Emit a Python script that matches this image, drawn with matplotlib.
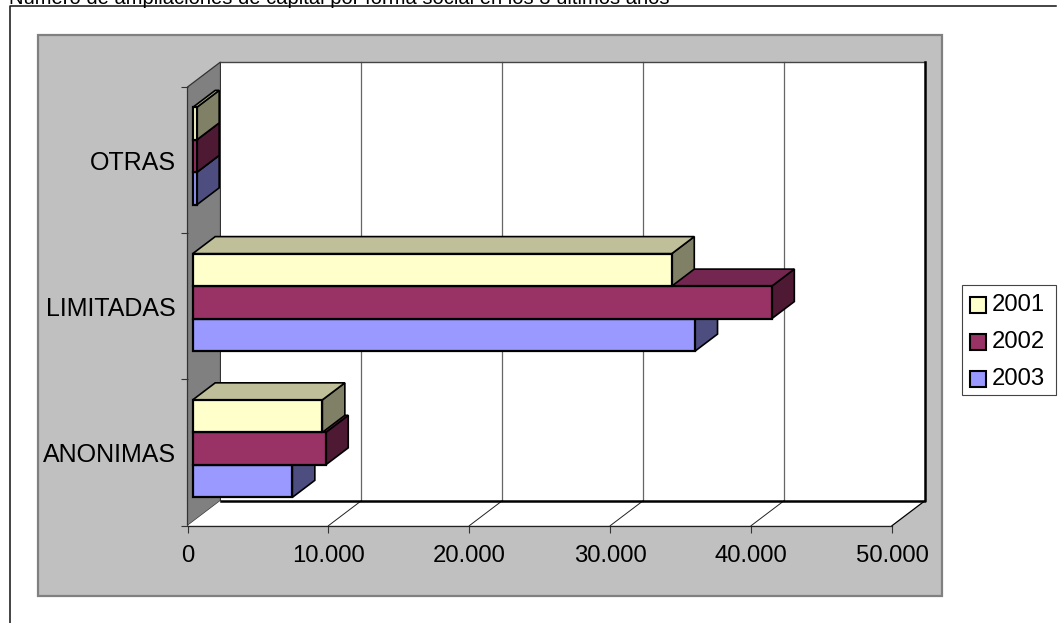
import matplotlib
matplotlib.use('Agg')
import matplotlib.pyplot as plt
from matplotlib.patches import Polygon, Rectangle
from matplotlib.transforms import Affine2D, IdentityTransform

plt.rcParams['font.family'] = ['Liberation Sans', 'DejaVu Sans']

title = 'Número de ampliaciones de capital por forma social en los 3 últimos años'
categories = ['ANONIMAS', 'LIMITADAS', 'OTRAS']
years = ['2001', '2002', '2003']
v2001 = [9200, 34000, 280]
v2002 = [9440, 41100, 280]
v2003 = [7070, 35650, 280]
xticks = [0, 10000, 20000, 30000, 40000, 50000]
xticklabels = ['0', '10.000', '20.000', '30.000', '40.000', '50.000']

front = {'2001': '#FFFFCC', '2002': '#993366', '2003': '#9999FF'}
top = {'2001': '#BFBF99', '2002': '#732650', '2003': '#7373BF'}
side = {'2001': '#808066', '2002': '#4D1933', '2003': '#4D4D80'}

W, H = 1061, 623
DX, DY = 33.0, 25.0   # depth of the 3d box in pixels
BAR_D0, BAR_D1 = 0.157, 0.84
PIXELS = IdentityTransform()

fig = plt.figure(figsize=(W / 100, H / 100), dpi=100, facecolor='white')
px = Affine2D().scale(1, -1).translate(0, H)  # image pixels -> display

# page furniture
fig.add_artist(plt.Line2D([9.5, 9.5, 1056], [623, 6, 6], color='#111111', lw=1.1, transform=px, zorder=-2))
fig.text(9 / W, 1 - 3.5 / H, title, fontsize=14.5, va='baseline', ha='left', color='black')
fig.add_artist(Rectangle((38, 35), 904, 561, fc='#C0C0C0', ec='#808080', lw=1.6, transform=px, zorder=-1))

ax = fig.add_axes([187.5 / W, 1 - 525.7 / H, (892 - 187.5) / W, 438.7 / H], zorder=5)
ax.patch.set_visible(False)
ax.set_xlim(0, 50000)
ax.set_ylim(0, 3)
for s in ax.spines.values():
    s.set_visible(False)


def depth(d):
    return ax.transData + Affine2D().translate(DX * d, DY * d)


def corner(x, y, d):
    # data point on depth d, in display coordinates
    return depth(d).transform((x, y))


def face(pts, **kw):
    ax.add_patch(Polygon(pts, closed=True, transform=PIXELS, clip_on=False, **kw))


# left wall, floor, back wall
face([corner(0, 0, 0), corner(0, 3, 0), corner(0, 3, 1), corner(0, 0, 1)],
     fc='#808080', ec='#333333', lw=0.9, zorder=1)
face([corner(0, 0, 0), corner(50000, 0, 0), corner(50000, 0, 1), corner(0, 0, 1)],
     fc='white', ec='none', zorder=1)
face([corner(0, 0, 1), corner(50000, 0, 1), corner(50000, 3, 1), corner(0, 3, 1)],
     fc='white', ec='none', zorder=1)

back = depth(1)
for t in xticks[1:-1]:
    ax.plot([t, t], [0, 3], color='#666666', lw=0.9, transform=back, zorder=2, clip_on=False)
    a, b = corner(t, 0, 0), corner(t, 0, 1)
    ax.plot([a[0], b[0]], [a[1], b[1]], color='#222222', lw=0.7, transform=PIXELS, zorder=2, clip_on=False)
ax.plot([0, 50000], [3, 3], color='#444444', lw=1.0, transform=back, zorder=2, clip_on=False)
ax.plot([0, 50000, 50000], [0, 0, 3], color='black', lw=1.8, transform=back, zorder=2, clip_on=False)
a, b = corner(50000, 0, 0), corner(50000, 0, 1)
ax.plot([a[0], b[0]], [a[1], b[1]], color='black', lw=0.9, transform=PIXELS, zorder=2, clip_on=False)
ax.plot([0, 50000], [0, 0], color='#222222', lw=0.9, zorder=2, clip_on=False)

# bars, bottom to top so upper faces overlap properly
bar_h = 1 / 4.5
series = [(years[2], v2003, -bar_h), (years[1], v2002, 0), (years[0], v2001, bar_h)]
z = 3
for i in range(3):
    for name, vals, shift in series:
        v = vals[i]
        y0 = i + 0.5 + shift - bar_h / 2
        y1 = y0 + bar_h
        face([corner(v, y0, BAR_D0), corner(v, y1, BAR_D0), corner(v, y1, BAR_D1), corner(v, y0, BAR_D1)],
             fc=side[name], ec='black', lw=1.2, joinstyle='miter', zorder=z)
        face([corner(0, y1, BAR_D0), corner(v, y1, BAR_D0), corner(v, y1, BAR_D1), corner(0, y1, BAR_D1)],
             fc=top[name], ec='black', lw=1.2, joinstyle='miter', zorder=z)
        face([corner(0, y0, BAR_D0), corner(v, y0, BAR_D0), corner(v, y1, BAR_D0), corner(0, y1, BAR_D0)],
             fc=front[name], ec='black', lw=1.6, joinstyle='miter', zorder=z + 0.1)
        z += 1

ax.set_xticks(xticks)
ax.set_xticklabels(xticklabels, fontsize=17.2)
ax.set_yticks([0, 1, 2, 3])
ax.set_yticklabels([])
ax.set_yticks([0.5, 1.5, 2.5], labels=categories, minor=True, fontsize=18)
ax.tick_params(axis='y', which='minor', length=0, pad=8.5)
ax.tick_params(axis='both', which='major', length=5, width=0.8, color='#333333')
ax.tick_params(axis='x', pad=9)

# legend
fig.add_artist(Rectangle((963, 286), 94, 110, fc='#808080', ec='none', transform=px))
fig.add_artist(Rectangle((962, 285), 94, 110, fc='white', ec='#444444', lw=0.8, transform=px))
for k, name in enumerate(years):
    yc = 304.5 + k * 37
    fig.add_artist(Rectangle((970, yc - 7.5), 16, 15.5, fc=front[name], ec='black', lw=1.5, transform=px))
    fig.text(992 / W, 1 - (yc + 0.5) / H, name, fontsize=17.2, va='center', ha='left')

fig.savefig('out.png', dpi=100)
